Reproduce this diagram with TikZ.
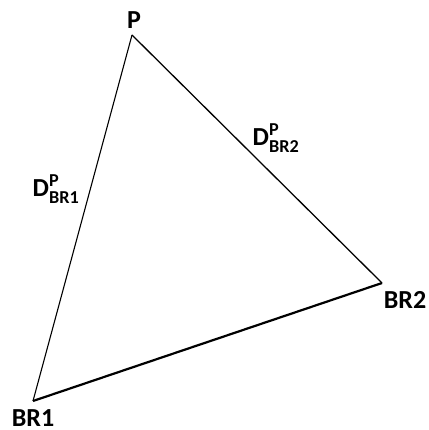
\documentclass[tikz,border=0pt]{standalone}
\usepackage{amsmath}
\usepackage{fontspec}
\setmainfont{Carlito}
\tikzset{
  vlabel/.style={font=\bfseries\fontsize{26}{28}\selectfont, inner sep=0pt},
  dlabel/.style={font=\bfseries\fontsize{26}{28}\selectfont, inner sep=0pt},
  edge/.style={draw=black, line width=1.1pt, line join=miter}
}
\begin{document}
\begin{tikzpicture}[x=1pt,y=-1pt]
\useasboundingbox (0,0) rectangle (428,430);
\coordinate (p) at (132,35);
\coordinate (b1) at (33,401);
\coordinate (b2) at (382,283);
\draw[edge] (b1) -- (p);
\draw[edge, line width=1.3pt] (p) -- (b2);
\draw[edge, line width=2.2pt] (b1) -- (b2);
\node[vlabel] (lp) at (134,20) {P};
\node[vlabel] (lb1) at (33,418) {BR1};
\node[vlabel] (lb2) at (405,300) {BR2};
\node[dlabel] (d1) at (56,189) {$\textbf{D}^{\textbf{P}}_{\textbf{BR1}}$};
\node[dlabel] (d2) at (276,138) {$\textbf{D}^{\textbf{P}}_{\textbf{BR2}}$};
\end{tikzpicture}
\end{document}
